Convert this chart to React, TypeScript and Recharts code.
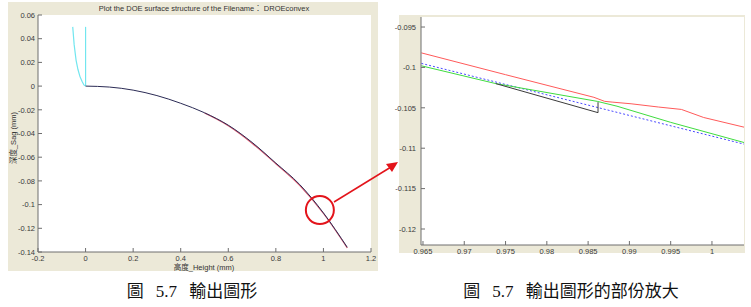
import { CartesianGrid, Line, LineChart, ReferenceDot, XAxis, YAxis } from "recharts";

// overview plot (left)
const overviewXTicks = [-0.2, 0, 0.2, 0.4, 0.6, 0.8, 1, 1.2];
const overviewYTicks = [0.06, 0.04, 0.02, 0, -0.02, -0.04, -0.06, -0.08, -0.1, -0.12, -0.14];

const cyanCurveX = [-0.054, -0.048, -0.04, -0.032, -0.0235, -0.015, -0.007, 0];
const cyanCurveY = [0.05, 0.035, 0.022, 0.014, 0.008, 0.004, 0.001, 0];
const cyanStemX = [0, 0];
const cyanStemY = [0, 0.05];

const profileX = [0, 0.1, 0.2, 0.3, 0.4, 0.5, 0.6, 0.7, 0.8, 0.9, 1.0, 1.1];
const profileY = [0, -0.0008, -0.0034, -0.008, -0.0145, -0.0225, -0.033, -0.0475, -0.065, -0.083, -0.107, -0.136];
const fitX = [0.5, 0.6, 0.7, 0.8, 0.9, 1.0, 1.1];
const fitY = [-0.0228, -0.0335, -0.0482, -0.0655, -0.0838, -0.1075, -0.1365];

// zoomed plot (right)
const zoomXTicks = [0.965, 0.97, 0.975, 0.98, 0.985, 0.99, 0.995, 1];
const zoomYTicks = [-0.095, -0.1, -0.105, -0.11, -0.115, -0.12];

const redX = [0.9648, 0.975, 0.9857, 0.987, 0.988, 0.9902, 0.9935, 0.9963, 0.999, 1.0039];
const redY = [-0.0982, -0.1009, -0.1037, -0.1042, -0.1043, -0.1045, -0.1049, -0.1052, -0.1062, -0.1074];
const greenX = [0.9648, 0.9738, 0.9861, 0.9885, 0.995, 1.0039];
const greenY = [-0.0998, -0.102, -0.1042, -0.1048, -0.1068, -0.1093];
const blueX = [0.9648, 1.0039];
const blueY = [-0.0995, -0.1095];
const blackX = [0.9738, 0.9862, 0.9862];
const blackY = [-0.102, -0.1056, -0.1043];

const pts = (xs: number[], ys: number[]) => xs.map((x, i) => ({ x, y: ys[i] }));

const PANEL = "#ece9d8";
const AXIS_COLOR = "#6e6e6e";
const TICK_LEN = 4;
const tickText = {
  fontFamily: "'Liberation Sans', Arial, sans-serif",
  fontSize: 7.5,
  fill: "#3a3a3a",
};

type Side = "bottom" | "top" | "left" | "right";

// MATLAB style ticks: pointing into the box, labels outside
function makeTick(side: Side, label: boolean, gap = 3) {
  return (props: any) => {
    const { x, y, payload } = props;
    let x2 = x;
    let y2 = y;
    if (side === "bottom") y2 = y - TICK_LEN;
    if (side === "top") y2 = y + TICK_LEN;
    if (side === "left") x2 = x + TICK_LEN;
    if (side === "right") x2 = x - TICK_LEN;
    return (
      <g>
        <line x1={x} y1={y} x2={x2} y2={y2} stroke={AXIS_COLOR} strokeWidth={1} />
        {label && side === "bottom" && (
          <text x={x} y={y + 9} textAnchor="middle" {...tickText}>
            {String(payload.value)}
          </text>
        )}
        {label && side === "left" && (
          <text x={x - gap} y={y + 2.7} textAnchor="end" {...tickText}>
            {String(payload.value)}
          </text>
        )}
      </g>
    );
  };
}

const smallLabel: React.CSSProperties = {
  position: "absolute",
  fontFamily: "'Liberation Sans', Arial, 'Noto Sans CJK TC', sans-serif",
  fontSize: 7.5,
  color: "#333",
  whiteSpace: "nowrap",
  transform: "translate(-50%, -50%)",
};

const caption: React.CSSProperties = {
  position: "absolute",
  fontFamily: "'Liberation Serif', 'Noto Sans CJK TC', serif",
  fontSize: 17,
  color: "#111",
  whiteSpace: "nowrap",
  wordSpacing: 8,
  transform: "translate(-50%, -50%)",
};

export default function App() {
  return (
    <div
      style={{
        position: "absolute",
        left: 0,
        top: 0,
        width: 751,
        height: 307,
        background: "#fff",
        overflow: "hidden",
      }}
    >
      {/* left figure */}
      <div style={{ position: "absolute", left: 8, top: 2, width: 370, height: 269, background: PANEL }}>
        <LineChart width={370} height={269} margin={{ top: 13, right: 7, bottom: 0, left: 0 }}>
          <CartesianGrid xAxisId="b" yAxisId="l" horizontal={false} vertical={false} fill="#fff" />
          <XAxis
            xAxisId="b"
            type="number"
            dataKey="x"
            domain={[-0.2, 1.2]}
            ticks={overviewXTicks}
            interval={0}
            allowDataOverflow
            height={19}
            axisLine={{ stroke: AXIS_COLOR }}
            tickLine={false}
            tickSize={0}
            tickMargin={0}
            tick={makeTick("bottom", true)}
          />
          <XAxis
            xAxisId="t"
            orientation="top"
            type="number"
            dataKey="x"
            domain={[-0.2, 1.2]}
            ticks={overviewXTicks}
            interval={0}
            allowDataOverflow
            height={0}
            axisLine={{ stroke: AXIS_COLOR }}
            tickLine={false}
            tickSize={0}
            tickMargin={0}
            tick={makeTick("top", false)}
          />
          <YAxis
            yAxisId="l"
            type="number"
            dataKey="y"
            domain={[-0.14, 0.06]}
            ticks={overviewYTicks}
            interval={0}
            allowDataOverflow
            width={30}
            axisLine={{ stroke: AXIS_COLOR }}
            tickLine={false}
            tickSize={0}
            tickMargin={0}
            tick={makeTick("left", true, 3)}
          />
          <YAxis
            yAxisId="r"
            orientation="right"
            type="number"
            dataKey="y"
            domain={[-0.14, 0.06]}
            ticks={overviewYTicks}
            interval={0}
            allowDataOverflow
            width={0}
            axisLine={{ stroke: AXIS_COLOR }}
            tickLine={false}
            tickSize={0}
            tickMargin={0}
            tick={makeTick("right", false)}
          />
          <Line xAxisId="b" yAxisId="l" data={pts(cyanCurveX, cyanCurveY)} dataKey="y" type="linear" stroke="#72e6ef" strokeWidth={1.2} dot={false} isAnimationActive={false} />
          <Line xAxisId="b" yAxisId="l" data={pts(cyanStemX, cyanStemY)} dataKey="y" type="linear" stroke="#72e6ef" strokeWidth={1.2} dot={false} isAnimationActive={false} />
          <Line xAxisId="b" yAxisId="l" data={pts(fitX, fitY)} dataKey="y" type="monotone" stroke="#d9546a" strokeWidth={1.1} dot={false} isAnimationActive={false} />
          <Line xAxisId="b" yAxisId="l" data={pts(profileX, profileY)} dataKey="y" type="monotone" stroke="#2b2b55" strokeWidth={1} dot={false} isAnimationActive={false} />
          <ReferenceDot xAxisId="b" yAxisId="l" x={0.985} y={-0.1046} r={14} fill="none" stroke="#e3141b" strokeWidth={2} />
        </LineChart>
      </div>
      <div style={{ ...smallLabel, left: 204, top: 7 }}>Plot the DOE surface structure of the Filename： DROEconvex</div>
      <div style={{ ...smallLabel, left: 204, top: 266 }}>高度_Height (mm)</div>
      <div style={{ ...smallLabel, left: 12, top: 138, transform: "translate(-50%, -50%) rotate(-90deg)" }}>深度_Sag (mm)</div>

      {/* right figure: gray panel behind, chart sized so its tick labels fit */}
      <div style={{ position: "absolute", left: 399, top: 15, width: 346, height: 238, background: PANEL }} />
      <div style={{ position: "absolute", left: 370, top: 15 }}>
        <LineChart width={375} height={245} margin={{ top: 2, right: 1, bottom: 0, left: 0 }}>
          <CartesianGrid xAxisId="b" yAxisId="l" horizontal={false} vertical={false} fill="#fff" />
          <XAxis
            xAxisId="b"
            type="number"
            dataKey="x"
            domain={[0.96476, 1.00388]}
            ticks={zoomXTicks}
            interval={0}
            allowDataOverflow
            height={15}
            axisLine={{ stroke: AXIS_COLOR }}
            tickLine={false}
            tickSize={0}
            tickMargin={0}
            tick={makeTick("bottom", true)}
          />
          <XAxis
            xAxisId="t"
            orientation="top"
            type="number"
            dataKey="x"
            domain={[0.96476, 1.00388]}
            ticks={zoomXTicks}
            interval={0}
            allowDataOverflow
            height={0}
            axisLine={{ stroke: AXIS_COLOR }}
            tickLine={false}
            tickSize={0}
            tickMargin={0}
            tick={makeTick("top", false)}
          />
          <YAxis
            yAxisId="l"
            type="number"
            dataKey="y"
            domain={[-0.12198, -0.09376]}
            ticks={zoomYTicks}
            interval={0}
            allowDataOverflow
            width={51}
            axisLine={{ stroke: AXIS_COLOR }}
            tickLine={false}
            tickSize={0}
            tickMargin={0}
            tick={makeTick("left", true, 5)}
          />
          <YAxis
            yAxisId="r"
            orientation="right"
            type="number"
            dataKey="y"
            domain={[-0.12198, -0.09376]}
            ticks={zoomYTicks}
            interval={0}
            allowDataOverflow
            width={0}
            axisLine={{ stroke: AXIS_COLOR }}
            tickLine={false}
            tickSize={0}
            tickMargin={0}
            tick={makeTick("right", false)}
          />
          <Line xAxisId="b" yAxisId="l" data={pts(redX, redY)} dataKey="y" type="linear" stroke="#ff5a5a" strokeWidth={1} dot={false} isAnimationActive={false} />
          <Line xAxisId="b" yAxisId="l" data={pts(blueX, blueY)} dataKey="y" type="linear" stroke="#4a4aff" strokeWidth={1} strokeDasharray="2 2" dot={false} isAnimationActive={false} />
          <Line xAxisId="b" yAxisId="l" data={pts(greenX, greenY)} dataKey="y" type="linear" stroke="#3fdc3f" strokeWidth={1} dot={false} isAnimationActive={false} />
          <Line xAxisId="b" yAxisId="l" data={pts(blackX, blackY)} dataKey="y" type="linear" stroke="#3a3a3a" strokeWidth={1} dot={false} isAnimationActive={false} />
        </LineChart>
      </div>

      {/* arrow from the circled region to the enlarged view */}
      <svg width={751} height={307} style={{ position: "absolute", left: 0, top: 0, pointerEvents: "none" }}>
        <line x1={334} y1={202} x2={391} y2={167} stroke="#e3141b" strokeWidth={1.5} />
        <polygon points="398,162 386,164 392,172" fill="#e3141b" />
      </svg>

      <div style={{ ...caption, left: 192, top: 289 }}>圖 5.7 輸出圖形</div>
      <div style={{ ...caption, left: 571, top: 289 }}>圖 5.7 輸出圖形的部份放大</div>
    </div>
  );
}
